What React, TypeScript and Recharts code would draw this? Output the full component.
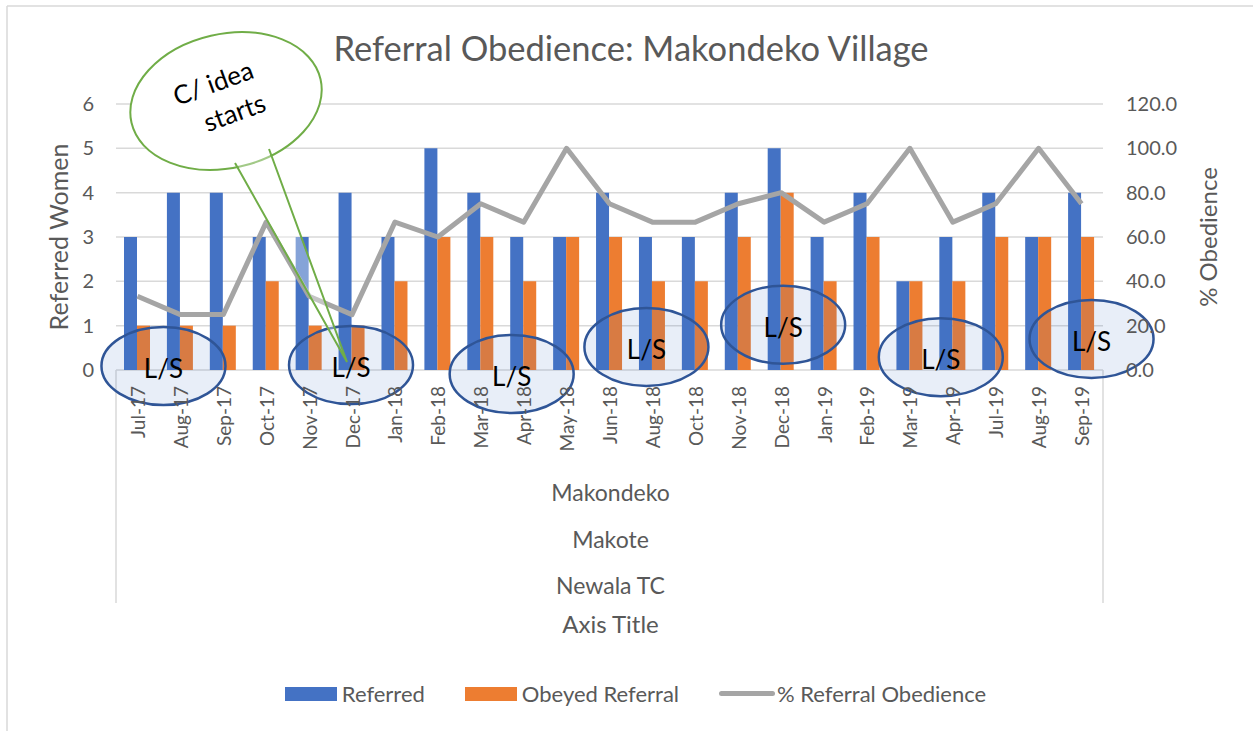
import React from "react";
import {
  ComposedChart,
  Bar,
  Line,
  XAxis,
  YAxis,
  CartesianGrid,
  Legend,
  ReferenceDot,
  Customized,
} from "recharts";

// Referral obedience, Makondeko village (Jul-17 .. Sep-19)
const months = [
  "Jul-17", "Aug-17", "Sep-17", "Oct-17", "Nov-17", "Dec-17", "Jan-18", "Feb-18",
  "Mar-18", "Apr-18", "May-18", "Jun-18", "Aug-18", "Oct-18", "Nov-18", "Dec-18",
  "Jan-19", "Feb-19", "Mar-19", "Apr-19", "Jul-19", "Aug-19", "Sep-19",
];
const referred = [3, 4, 4, 3, 3, 4, 3, 5, 4, 3, 3, 4, 3, 3, 4, 5, 3, 4, 2, 3, 4, 3, 4];
const obeyed = [1, 1, 1, 2, 1, 1, 2, 3, 3, 2, 3, 3, 2, 2, 3, 4, 2, 3, 2, 2, 3, 3, 3];
const pctObedience = [
  33.3, 25.0, 25.0, 66.7, 33.3, 25.0, 66.7, 60.0, 75.0, 66.7, 100.0, 75.0,
  66.7, 66.7, 75.0, 80.0, 66.7, 75.0, 100.0, 66.7, 75.0, 100.0, 75.0,
];
const outerLevels = ["Makondeko", "Makote", "Newala TC"];
const leftTicks = [0, 1, 2, 3, 4, 5, 6];
const rightTicks = [0, 20, 40, 60, 80, 100, 120];

// "L/S" ellipses: anchored to a month + left-axis level, nudged in px
const lsAnchors = ["Jul-17", "Dec-17", "Apr-18", "Aug-18", "Dec-18", "Apr-19", "Sep-19"];
const lsLevels = [0.09, 0.11, -0.09, 0.52, 1.02, 0.29, 0.7];
const lsShift = [26, -1, -12, -6, 2, -12, 10];

const data = months.map((m, i) => ({
  month: m,
  referred: referred[i],
  obeyed: obeyed[i],
  pct: pctObedience[i],
}));

const FONT = "Lato, 'Open Sans', sans-serif";
const GREY = "#595959";
const W = 1253;
const H = 731;
// plot area edges
const PL = 116;
const PR = 1103;
const PT = 104;
const PB = 370;
const XAXIS_H = 90;

const MonthTick = (props: any) => {
  const { x, payload } = props;
  const y = PB + 16;
  return (
    <text
      x={x}
      y={y}
      transform={`rotate(-90, ${x}, ${y})`}
      textAnchor="end"
      dominantBaseline="central"
      fontSize={19}
      fill={GREY}
      fontFamily={FONT}
    >
      {payload.value}
    </text>
  );
};

const lsShape = (dx: number) => (props: any) => {
  const cx = props.cx + dx;
  const cy = props.cy;
  return (
    <g>
      <ellipse
        cx={cx}
        cy={cy}
        rx={62}
        ry={39}
        fill="#4472C4"
        fillOpacity={0.12}
        stroke="#2F5597"
        strokeWidth={2.5}
      />
      <text
        x={cx}
        y={cy + 2}
        textAnchor="middle"
        dominantBaseline="central"
        fontSize={26}
        fontFamily={FONT}
        fill="#000"
      >
        L/S
      </text>
    </g>
  );
};

// speech balloon "C/ idea starts", drawn relative to its tail tip
const balloonShape = (props: any) => {
  const tx = props.cx - 5;
  const ty = props.cy;
  const c = { x: tx - 121, y: ty - 261 };
  const b1 = { x: tx - 112, y: ty - 199 };
  const b2 = { x: tx - 78, y: ty - 213 };
  return (
    <g>
      <ellipse
        cx={c.x}
        cy={c.y}
        rx={97}
        ry={67}
        transform={`rotate(-13, ${c.x}, ${c.y})`}
        fill="#fff"
        stroke="#70AD47"
        strokeWidth={2}
      />
      <polygon
        points={`${b1.x - 3},${b1.y - 8} ${tx},${ty} ${b2.x - 4},${b2.y - 8}`}
        fill="#fff"
        fillOpacity={0.35}
        stroke="none"
      />
      <polyline
        points={`${b1.x},${b1.y} ${tx},${ty} ${b2.x},${b2.y}`}
        fill="none"
        stroke="#70AD47"
        strokeWidth={2}
      />
      <g transform={`rotate(-20, ${c.x}, ${c.y})`} fontFamily={FONT} fontSize={26} fill="#000">
        <text x={c.x - 6} y={c.y - 12} textAnchor="middle">
          C/ idea
        </text>
        <text x={c.x + 4} y={c.y + 23} textAnchor="middle">
          starts
        </text>
      </g>
    </g>
  );
};

const Decorations = () => (
  <g fontFamily={FONT} fill={GREY}>
    {/* chart frame (top + left only, as cropped) */}
    <line x1={7} y1={6} x2={W} y2={6} stroke="#D9D9D9" strokeWidth={1.5} />
    <line x1={7} y1={6} x2={7} y2={H} stroke="#D9D9D9" strokeWidth={1.5} />
    <text x={631} y={61} textAnchor="middle" fontSize={34.5}>
      Referral Obedience: Makondeko Village
    </text>
    <text
      x={68}
      y={(PT + PB) / 2}
      transform={`rotate(-90, 68, ${(PT + PB) / 2})`}
      textAnchor="middle"
      fontSize={25}
    >
      Referred Women
    </text>
    <text
      x={1217}
      y={(PT + PB) / 2}
      transform={`rotate(-90, 1217, ${(PT + PB) / 2})`}
      textAnchor="middle"
      fontSize={24}
    >
      % Obedience
    </text>
    {/* multi-level category box */}
    <line x1={PL} y1={PB} x2={PL} y2={603} stroke="#D9D9D9" strokeWidth={1.5} />
    <line x1={PR} y1={PB} x2={PR} y2={603} stroke="#D9D9D9" strokeWidth={1.5} />
    {outerLevels.map((name, i) => (
      <text key={name} x={(PL + PR) / 2 + 1} y={501 + i * 46.5} textAnchor="middle" fontSize={23}>
        {name}
      </text>
    ))}
    <text x={(PL + PR) / 2 + 1} y={633} textAnchor="middle" fontSize={24}>
      Axis Title
    </text>
  </g>
);

const LegendContent = () => (
  <div
    style={{
      display: "flex",
      justifyContent: "center",
      alignItems: "center",
      fontFamily: FONT,
      fontSize: 22,
      color: GREY,
      gap: 40,
    }}
  >
    <span style={{ display: "flex", alignItems: "center" }}>
      <span style={{ width: 52, height: 14, background: "#4472C4", marginRight: 5 }} />
      Referred
    </span>
    <span style={{ display: "flex", alignItems: "center" }}>
      <span style={{ width: 52, height: 14, background: "#ED7D31", marginRight: 5 }} />
      Obeyed Referral
    </span>
    <span style={{ display: "flex", alignItems: "center" }}>
      <span
        style={{ width: 56, height: 5, borderRadius: 3, background: "#A5A5A5", marginRight: 2 }}
      />
      % Referral Obedience
    </span>
  </div>
);

export default function App() {
  return (
    <div style={{ position: "absolute", left: 0, top: 0, width: W, height: H, background: "#fff" }}>
      <ComposedChart
        width={W}
        height={H}
        data={data}
        margin={{ top: PT, right: 0, left: 0, bottom: H - PB - XAXIS_H }}
        barGap={0}
        barSize={13}
      >
        <Customized component={Decorations} />
        <CartesianGrid
          yAxisId="left"
          vertical={false}
          stroke="#D9D9D9"
          strokeWidth={1.5}
        />
        <XAxis
          dataKey="month"
          interval={0}
          axisLine={false}
          tickLine={false}
          tick={<MonthTick />}
          height={XAXIS_H}
        />
        <YAxis
          yAxisId="left"
          domain={[0, 6]}
          ticks={leftTicks}
          width={PL}
          axisLine={false}
          tickLine={false}
          tickMargin={16}
          tick={{ fontSize: 20, fill: GREY, fontFamily: FONT }}
        />
        <YAxis
          yAxisId="right"
          orientation="right"
          domain={[0, 120]}
          ticks={rightTicks}
          width={W - PR}
          axisLine={false}
          tickLine={false}
          tickMargin={17}
          tickFormatter={(v: number) => v.toFixed(1)}
          tick={{ fontSize: 20, fill: GREY, fontFamily: FONT }}
        />
        <Bar yAxisId="left" dataKey="referred" name="Referred" fill="#4472C4" isAnimationActive={false} />
        <Bar yAxisId="left" dataKey="obeyed" name="Obeyed Referral" fill="#ED7D31" isAnimationActive={false} />
        <Line
          yAxisId="right"
          type="linear"
          dataKey="pct"
          name="% Referral Obedience"
          stroke="#A5A5A5"
          strokeWidth={5}
          strokeLinejoin="round"
          dot={false}
          activeDot={false}
          isAnimationActive={false}
        />
        {lsAnchors.map((m, i) => (
          <ReferenceDot
            key={m}
            yAxisId="left"
            x={m}
            y={lsLevels[i]}
            r={1}
            ifOverflow="visible"
            shape={lsShape(lsShift[i])}
          />
        ))}
        <ReferenceDot
          yAxisId="left"
          x="Dec-17"
          y={0.18}
          r={1}
          ifOverflow="visible"
          shape={balloonShape}
        />
        <Legend
          verticalAlign="middle"
          align="center"
          layout="horizontal"
          content={<LegendContent />}
          wrapperStyle={{ top: 680, left: 0, width: 1271 }}
        />
      </ComposedChart>
    </div>
  );
}
